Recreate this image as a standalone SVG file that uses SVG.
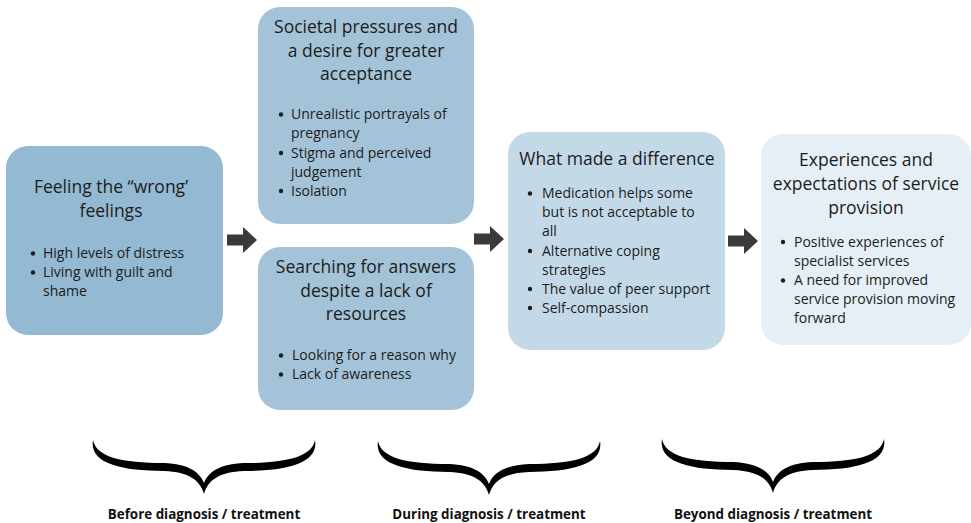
<svg xmlns="http://www.w3.org/2000/svg" width="971" height="523" viewBox="0 0 971 523">
<defs>
<style>
.t{font-family:"Open Sans","Noto Sans",sans-serif;font-size:17.5px;fill:#1c1c1c;text-anchor:middle}
.b{font-family:"Open Sans","Noto Sans",sans-serif;font-size:14px;fill:#1c1c1c}
.l{font-family:"Open Sans","Noto Sans",sans-serif;font-size:13.4px;font-weight:bold;fill:#111;text-anchor:middle}
.d{fill:#1c1c1c}
.arr{fill:#3b3b3b}
</style>
<path id="arrow" d="M0,-5.5 H16 V-13 L30,0 L16,13 V5.5 H0 Z"/>
<path id="brace" d="M-111,-54 C-115,-31 -84,-23 -40,-23 C-15,-22 -4,-14 0,0 C4,-14 15,-22 40,-23 C84,-23 115,-31 111,-54 C108,-37 82,-31 40,-31 C16,-30 4,-22 0,-11 C-4,-22 -16,-30 -40,-31 C-82,-31 -108,-37 -111,-54 Z"/>
</defs>
<rect width="971" height="523" fill="#ffffff"/>

<g id="node1">
<rect x="6" y="146" width="217" height="189" rx="22" fill="#94b9d2"/>
<text class="t" x="111" y="193">Feeling the “wrong’</text>
<text class="t" x="111" y="217">feelings</text>
<circle class="d" cx="33" cy="253.5" r="2.2"/>
<text class="b" x="43" y="258">High levels of distress</text>
<circle class="d" cx="33" cy="272.5" r="2.2"/>
<text class="b" x="43" y="277">Living with guilt and</text>
<text class="b" x="43" y="296">shame</text>
</g>

<g id="node2">
<rect x="258" y="7" width="216" height="217" rx="22" fill="#a4c3d9"/>
<text class="t" x="366" y="33">Societal pressures and</text>
<text class="t" x="366" y="56.5">a desire for greater</text>
<text class="t" x="366" y="80">acceptance</text>
<circle class="d" cx="281" cy="114.5" r="2.2"/>
<text class="b" x="291" y="119">Unrealistic portrayals of</text>
<text class="b" x="291" y="138">pregnancy</text>
<circle class="d" cx="281" cy="153" r="2.2"/>
<text class="b" x="291" y="157.5">Stigma and perceived</text>
<text class="b" x="291" y="176.5">judgement</text>
<circle class="d" cx="281" cy="191" r="2.2"/>
<text class="b" x="291" y="195.5">Isolation</text>
</g>

<g id="node3">
<rect x="258" y="247" width="216" height="163" rx="22" fill="#a4c3d9"/>
<text class="t" x="366" y="273">Searching for answers</text>
<text class="t" x="366" y="296.5">despite a lack of</text>
<text class="t" x="366" y="320">resources</text>
<circle class="d" cx="281" cy="355.5" r="2.2"/>
<text class="b" x="292" y="360">Looking for a reason why</text>
<circle class="d" cx="281" cy="374.5" r="2.2"/>
<text class="b" x="292" y="379">Lack of awareness</text>
</g>

<g id="node4">
<rect x="508" y="132" width="217" height="218" rx="22" fill="#c4d9e8"/>
<text class="t" x="617" y="164.5">What made a difference</text>
<circle class="d" cx="530" cy="193.5" r="2.2"/>
<text class="b" x="542" y="198">Medication helps some</text>
<text class="b" x="542" y="217">but is not acceptable to</text>
<text class="b" x="542" y="236">all</text>
<circle class="d" cx="530" cy="251" r="2.2"/>
<text class="b" x="542" y="255.5">Alternative coping</text>
<text class="b" x="542" y="274.5">strategies</text>
<circle class="d" cx="530" cy="289" r="2.2"/>
<text class="b" x="542" y="293.5">The value of peer support</text>
<circle class="d" cx="530" cy="308" r="2.2"/>
<text class="b" x="542" y="312.5">Self-compassion</text>
</g>

<g id="node5">
<rect x="761" y="134" width="210" height="211" rx="22" fill="#e6eff6"/>
<text class="t" x="866" y="166">Experiences and</text>
<text class="t" x="866" y="190">expectations of service</text>
<text class="t" x="866" y="214">provision</text>
<circle class="d" cx="783" cy="242" r="2.2"/>
<text class="b" x="794" y="246.5">Positive experiences of</text>
<text class="b" x="794" y="265.5">specialist services</text>
<circle class="d" cx="783" cy="280.5" r="2.2"/>
<text class="b" x="794" y="285">A need for improved</text>
<text class="b" x="794" y="304">service provision moving</text>
<text class="b" x="794" y="322.5">forward</text>
</g>

<g id="connectors">
<use href="#arrow" class="arr" transform="translate(227,240)"/>
<use href="#arrow" class="arr" transform="translate(474,239)"/>
<use href="#arrow" class="arr" transform="translate(728,241)"/>
</g>

<g id="phases">
<use href="#brace" fill="#000" transform="translate(204,494)"/>
<use href="#brace" fill="#000" transform="translate(489,495)"/>
<use href="#brace" fill="#000" transform="translate(773,493)"/>
<text class="l" x="204" y="519">Before diagnosis / treatment</text>
<text class="l" x="489" y="519">During diagnosis / treatment</text>
<text class="l" x="773" y="519">Beyond diagnosis / treatment</text>
</g>
</svg>
